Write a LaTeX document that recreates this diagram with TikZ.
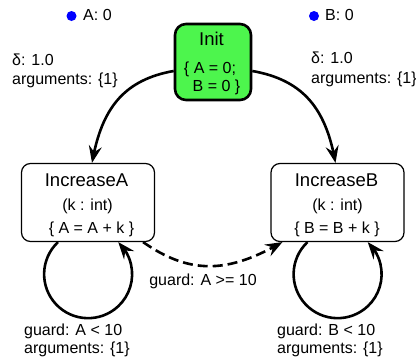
\documentclass[tikz,border=0pt]{standalone}
\usepackage{fontspec}
\setmainfont{Liberation Sans}
\usetikzlibrary{arrows.meta,bending}
\definecolor{initgreen}{RGB}{77,245,77}
\definecolor{dotblue}{RGB}{0,0,255}
\begin{document}
\begin{tikzpicture}[x=1pt,y=1pt,
  state/.style={draw, rounded corners=9pt, line width=1.2pt,
    minimum width=133pt, minimum height=78pt, inner sep=0pt},
  initstate/.style={draw, fill=initgreen, line width=2.6pt, rounded corners=11pt,
    minimum width=76pt, minimum height=76pt, inner sep=0pt},
  title/.style={font=\fontsize{18.5}{22}\selectfont, inner sep=0pt, anchor=base},
  body/.style={font=\fontsize{16}{19}\selectfont, inner sep=0pt, anchor=base},
  lbl/.style={font=\fontsize{16}{19}\selectfont, inner sep=0pt, anchor=base west},
  trans/.style={line width=2.6pt, -{Stealth[length=17pt,width=13pt,inset=6pt,flex]}},
  guardtrans/.style={trans, dash pattern=on 10pt off 5pt},
  selfloop/.style={trans},
  vardot/.style={circle, fill=dotblue, inner sep=0pt, minimum size=10pt}
]
\useasboundingbox (0,0) rectangle (416,360);

% states
\node[initstate] (init) at (213,298) {};
\node[state] (ia) at (88,157.5) {};
\node[state] (ib) at (337.5,157.5) {};

% state contents
\node[title] (initname) at (211.5,315) {Init};
\node[body] (initA) at (210,287) {\{ A = 0;};
\node[body] (initB) at (216.5,269) {B = 0 \}};

\node[title] (ianame) at (86.5,174) {IncreaseA};
\node[body] (iaparam) at (87.5,150) {(k : int)};
\node[body] (iaupd) at (91.5,127) {\{ A = A + k \}};

\node[title] (ibname) at (336.5,174) {IncreaseB};
\node[body] (ibparam) at (337.5,150) {(k : int)};
\node[body] (ibupd) at (337,127) {\{ B = B + k \}};

% variables
\node[vardot] (dotA) at (71.5,344) {};
\node[lbl] (varA) at (83,340) {A: 0};
\node[vardot] (dotB) at (314,344) {};
\node[lbl] (varB) at (325,340) {B: 0};

% transitions
\draw[trans] ([yshift=-9pt]init.west) to[out=190,in=80,looseness=1.1] ([xshift=4pt]ia.north);
\draw[trans] ([yshift=-9pt]init.east) to[out=-10,in=100,looseness=1.1] ([xshift=-2pt]ib.north);
\draw[guardtrans] ([xshift=-12pt]ia.south east) to[out=-35,in=210,looseness=1.1] ([xshift=12pt]ib.south west);
% self loops: circular arcs of radius 44pt below each state
\draw[selfloop] ([xshift=-30pt]ia.south) arc[start angle=133.2, end angle=406.8, radius=44pt];
\draw[selfloop] ([xshift=-30pt]ib.south) arc[start angle=133.2, end angle=406.8, radius=44pt];

% transition labels
\node[lbl] (dl1) at (12,295) {δ: 1.0};
\node[lbl] (dl2) at (12,276) {arguments: \{1\}};
\node[lbl] (dr1) at (311,297) {δ: 1.0};
\node[lbl] (dr2) at (311,277) {arguments: \{1\}};
\node[body] (gAB) at (203,75) {guard: A >= 10};
\node[lbl] (la1) at (24,25) {guard: A < 10};
\node[lbl] (la2) at (24,7) {arguments: \{1\}};
\node[lbl] (lb1) at (277,25) {guard: B < 10};
\node[lbl] (lb2) at (277,7) {arguments: \{1\}};
\end{tikzpicture}
\end{document}
